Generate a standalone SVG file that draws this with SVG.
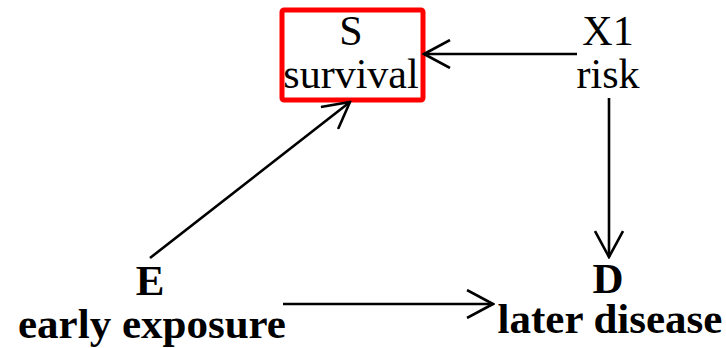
<svg xmlns="http://www.w3.org/2000/svg" width="726" height="348" viewBox="0 0 726 348">
<defs>
<style>
.t{font-family:"Liberation Serif","Times New Roman",serif;font-size:42px;fill:#000;text-anchor:middle}
.b{font-weight:bold;font-size:43px}
.ln{stroke:#000;stroke-width:2.6;fill:none}
</style>
<marker id="ah" viewBox="0 0 30 30" refX="28" refY="15" markerWidth="30" markerHeight="30" markerUnits="userSpaceOnUse" orient="auto">
<path d="M2,1 L28,15 L2,29" fill="none" stroke="#000" stroke-width="2.6"/>
</marker>
</defs>
<rect width="726" height="348" fill="#fff"/>
<g id="S">
<rect x="282" y="10" width="141" height="90" rx="2" fill="none" stroke="#f00" stroke-width="5"/>
<text class="t" x="351" y="45">S</text>
<text class="t" x="351" y="88">survival</text>
</g>
<g id="X1">
<text class="t" x="608" y="45">X1</text>
<text class="t" x="608" y="88">risk</text>
</g>
<g id="E">
<text class="t b" x="150" y="295">E</text>
<text class="t b" x="152" y="338">early exposure</text>
</g>
<g id="D">
<text class="t b" x="608" y="293">D</text>
<text class="t b" x="610" y="333">later disease</text>
</g>
<g id="connectors">
<line class="ln" x1="577" y1="54" x2="424" y2="54" marker-end="url(#ah)"/>
<line class="ln" x1="609" y1="98" x2="609" y2="257" marker-end="url(#ah)"/>
<line class="ln" x1="150" y1="258" x2="350" y2="102" marker-end="url(#ah)"/>
<line class="ln" x1="283" y1="304" x2="493" y2="304" marker-end="url(#ah)"/>
</g>
</svg>
